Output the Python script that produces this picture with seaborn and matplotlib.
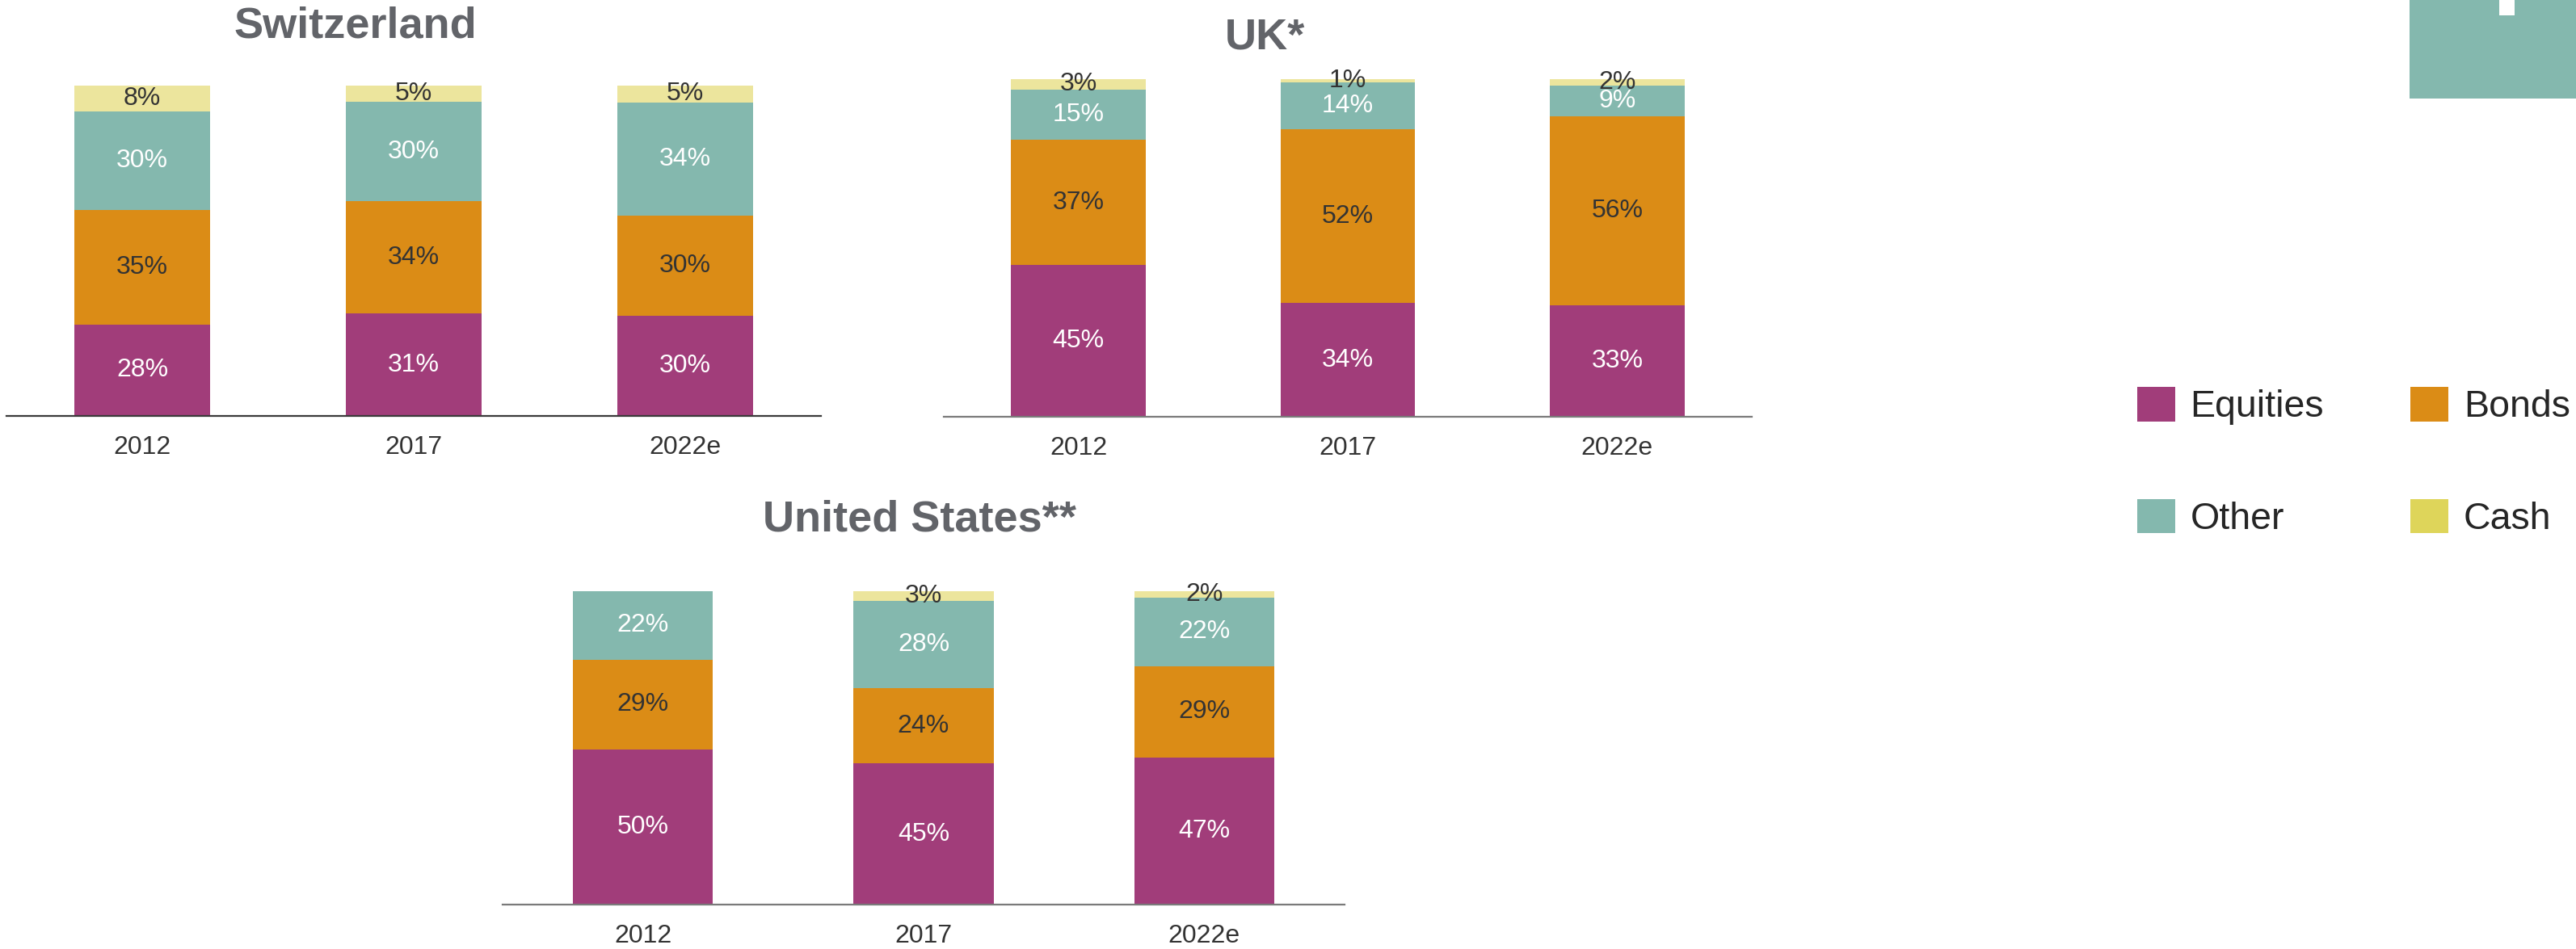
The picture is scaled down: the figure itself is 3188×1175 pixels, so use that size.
import pandas as pd
import seaborn as sns
import matplotlib.pyplot as plt
from matplotlib.patches import Patch, Rectangle

years = ['2012', '2017', '2022e']
assets = ['Equities', 'Bonds', 'Other', 'Cash']

ch_equities = [28, 31, 30]
ch_bonds = [35, 34, 30]
ch_other = [30, 30, 34]
ch_cash = [8, 5, 5]

uk_equities = [45, 34, 33]
uk_bonds = [37, 52, 56]
uk_other = [15, 14, 9]
uk_cash = [3, 1, 2]

us_equities = [50, 45, 47]
us_bonds = [29, 24, 29]
us_other = [22, 28, 22]
us_cash = [0, 3, 2]

titles = ['Switzerland', 'UK*', 'United States**']

bar_colors = {'Equities': '#A13D7A', 'Bonds': '#DB8C16', 'Other': '#84B8AE', 'Cash': '#ECE59D'}
legend_colors = {'Equities': '#A13D7A', 'Bonds': '#DB8C16', 'Other': '#84B8AE', 'Cash': '#DED55A'}
label_colors = {'Equities': 'white', 'Bonds': '#333333', 'Other': 'white', 'Cash': '#333333'}


def make_df(eq, bo, ot, ca):
    return pd.DataFrame({'year': years, 'Equities': eq, 'Bonds': bo, 'Other': ot, 'Cash': ca})


countries = [
    make_df(ch_equities, ch_bonds, ch_other, ch_cash),
    make_df(uk_equities, uk_bonds, uk_other, uk_cash),
    make_df(us_equities, us_bonds, us_other, us_cash),
]

sns.set_theme(style='white')
plt.rcParams['font.family'] = ['Liberation Sans', 'DejaVu Sans']

W, H = 3188, 1175
fig = plt.figure(figsize=(W / 100, H / 100), dpi=100)


def box(x0, x1, ybase, ytop):
    # pixel box -> figure fraction
    return [x0 / W, 1 - ybase / H, (x1 - x0) / W, (ybase - ytop) / H]


# axes box, title x (axes fraction), title pad (pt), baseline colour
layout = [
    (box(8, 1016, 515, 106), 0.428, 43, '#3a3a3a'),
    (box(1168, 2168, 516, 98), 0.397, 27, '#7a7a7a'),
    (box(622, 1664, 1120, 732), 0.495, 54, '#7a7a7a'),
]


def draw_panel(ax, df, title, tx, pad, line_color):
    wide = df.set_index('year')[assets]
    share = wide.div(wide.sum(axis=1), axis=0) * 100
    cum = share.cumsum(axis=1).reset_index()
    # stacked bars: draw totals first, smaller cumulative sums on top
    for a in reversed(assets):
        sns.barplot(data=cum, x='year', y=a, order=years, color=bar_colors[a],
                    saturation=1, width=0.5, linewidth=0, ax=ax)
    for i, yr in enumerate(years):
        for a in assets:
            v = wide.loc[yr, a]
            if v == 0:
                continue
            ymid = cum.loc[i, a] - share.loc[yr, a] / 2
            ax.text(i, ymid, f'{v}%', ha='center', va='center',
                    fontsize=23, color=label_colors[a])
    ax.set_xlim(-0.5, 2.5)
    ax.set_ylim(0, 100)
    ax.set(xlabel='', ylabel='')
    ax.set_yticks([])
    ax.tick_params(axis='x', length=0, pad=17, labelsize=23, labelcolor='#333333')
    sns.despine(ax=ax, left=True)
    ax.spines['bottom'].set_color(line_color)
    ax.spines['bottom'].set_linewidth(1.6)
    ax.set_title(title, x=tx, pad=pad, fontsize=39, fontweight='bold', color='#626469')


for df, title, (rect, tx, pad, lc) in zip(countries, titles, layout):
    ax = fig.add_axes(rect)
    draw_panel(ax, df, title, tx, pad, lc)

# legend, row-wise: Equities Bonds / Other Cash
order = ['Equities', 'Other', 'Bonds', 'Cash']
handles = [Patch(facecolor=legend_colors[a], linewidth=0, label=a) for a in order]
fig.legend(handles=handles, ncol=2, loc='upper left', bbox_to_anchor=(2645 / W, 1 - 479 / H),
           frameon=False, fontsize=33.5, handlelength=1.0, handleheight=1.03,
           handletextpad=0.41, columnspacing=2.3, labelspacing=1.97, borderpad=0,
           borderaxespad=0)

# clipped teal block in the top-right corner
fig.patches.append(Rectangle((2982 / W, 1 - 122 / H), 206 / W, 122 / H,
                             transform=fig.transFigure, facecolor='#84B8AE', linewidth=0))
fig.patches.append(Rectangle((3093 / W, 1 - 19 / H), 19 / W, 19 / H,
                             transform=fig.transFigure, facecolor='white', linewidth=0))

fig.savefig('out.png', dpi=100)
